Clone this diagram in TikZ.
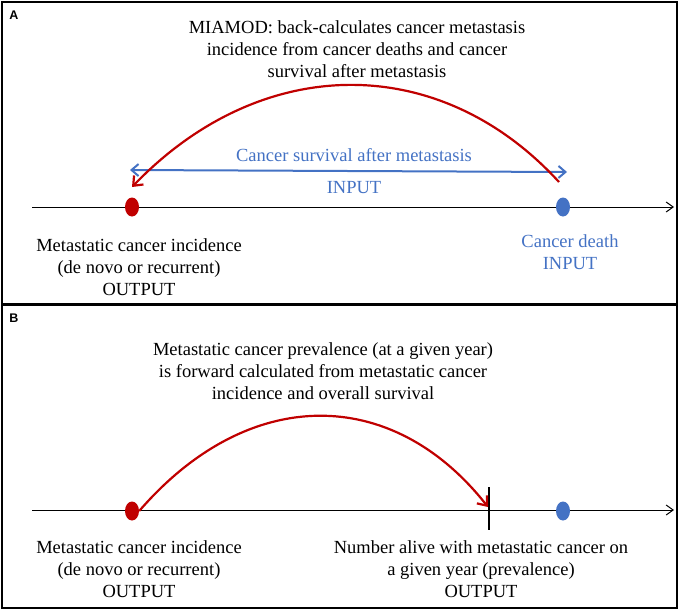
\documentclass[tikz,border=0pt]{standalone}
\usepackage{fontspec}
\setmainfont{Liberation Serif}
\setsansfont{Liberation Sans}
\usetikzlibrary{arrows.meta,shapes.geometric}

\definecolor{mred}{HTML}{C00000}
\definecolor{mblue}{HTML}{4472C4}

\begin{document}
\begin{tikzpicture}[
    x=1pt, y=-1pt,
    font=\fontsize{18.5}{22}\selectfont,
    panel/.style={
        draw,
        line width=1.5pt
    },
    panellabel/.style={
        font=\sffamily\bfseries\fontsize{12.5}{15}\selectfont,
        inner sep=0pt
    },
    txt/.style={
        align=center,
        inner sep=0pt
    },
    bluetxt/.style={
        txt,
        text=mblue
    },
    dot/.style={
        ellipse,
        inner sep=0pt,
        minimum width=14pt,
        minimum height=19pt
    },
    reddot/.style={dot, fill=mred},
    bluedot/.style={dot, fill=mblue},
    axis/.style={
        -{Straight Barb[length=7pt,width=10pt]},
        line width=1pt
    },
    arc/.style={
        -{Straight Barb[length=8pt,width=13pt]},
        draw=mred,
        line width=2.2pt
    },
    span/.style={
        {Straight Barb[length=7pt,width=12pt]}-{Straight Barb[length=7pt,width=12pt]},
        draw=mblue,
        line width=2pt
    }
]
\useasboundingbox (0,0) rectangle (680,611);

% ------------------------------------------------------------------
% Panel A
% ------------------------------------------------------------------

\draw[panel] (2,2) rectangle (677,304);
\node[panellabel] (labA) at (14,15) {A};

\node[txt] (titleA) at (357,49)
    {MIAMOD: back-calculates cancer metastasis\\
     incidence from cancer deaths and cancer\\
     survival after metastasis};

\coordinate (axisAstart) at (32,207);
\coordinate (axisAend) at (674,207);
\draw[axis] (axisAstart) -- (axisAend);

\node[reddot] (incA) at (132,207) {};
\node[bluedot] (deathA) at (563,207) {};

\coordinate (survL) at (130,170);
\coordinate (survR) at (567,172);
\draw[span] (survL) -- (survR);

\node[bluetxt] (survlabel) at (354,155) {Cancer survival after metastasis};
\node[bluetxt] (survinput) at (354,188) {INPUT};

\coordinate (arcAstart) at (559,182);
\coordinate (arcAend) at (132,187);
\draw[arc] (arcAstart) .. controls (440,52) and (262,52) .. (arcAend);

\node[txt] (incAtext) at (139,267)
    {Metastatic cancer incidence\\
     (de novo or recurrent)\\
     OUTPUT};

\node[bluetxt] (deathAtext) at (570,252)
    {Cancer death\\
     INPUT};

% ------------------------------------------------------------------
% Panel B
% ------------------------------------------------------------------

\draw[panel] (2,305) rectangle (677,608);
\node[panellabel] (labB) at (14,318) {B};

\node[txt] (titleB) at (323,371)
    {Metastatic cancer prevalence (at a given year)\\
     is forward calculated from metastatic cancer\\
     incidence and overall survival};

\coordinate (axisBstart) at (32,510);
\coordinate (axisBend) at (674,510);
\draw[axis] (axisBstart) -- (axisBend);

\node[reddot] (incB) at (132,511) {};
\node[bluedot] (deathB) at (563,511) {};

\coordinate (tickTop) at (489,487);
\coordinate (tickBot) at (489,530);
\draw[line width=1.4pt] (tickTop) -- (tickBot);

\coordinate (arcBend) at (488,507);
\draw[arc] (incB.east) .. controls (248,385) and (392,385) .. (arcBend);

\node[txt] (incBtext) at (139,569)
    {Metastatic cancer incidence\\
     (de novo or recurrent)\\
     OUTPUT};

\node[txt] (prevtext) at (481,569)
    {Number alive with metastatic cancer on\\
     a given year (prevalence)\\
     OUTPUT};

\end{tikzpicture}
\end{document}
